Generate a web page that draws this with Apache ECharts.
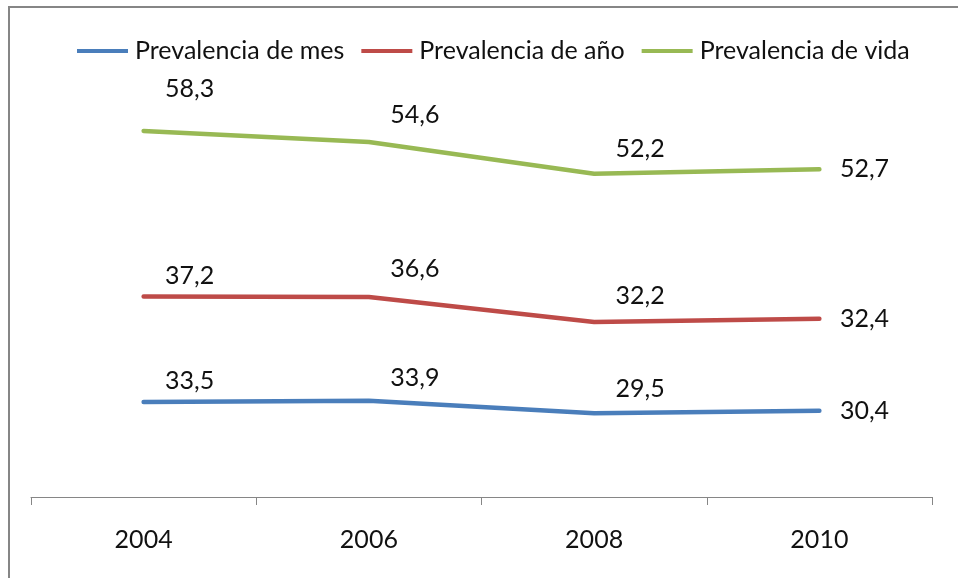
<!DOCTYPE html>
<html>
<head>
<meta charset="utf-8">
<script src="https://cdn.jsdelivr.net/npm/echarts@6/dist/echarts.min.js"></script>
<style>
    html, body { margin: 0; padding: 0; background: #fff; }
    #chart { width: 958px; height: 578px; }
</style>
</head>
<body>
<div id="chart"></div>
<script>
// 年份
const years = ['2004', '2006', '2008', '2010']
// 各系列数值 (Excel 折线图为堆积折线)
const mesValues = [33.5, 33.9, 29.5, 30.4]
const anoValues = [37.2, 36.6, 32.2, 32.4]
const vidaValues = [58.3, 54.6, 52.2, 52.7]
const seriesNames = ['Prevalencia de mes', 'Prevalencia de año', 'Prevalencia de vida']

// 标签上移量 (每个系列每个点)
const labelLift = {
    mes: [-21, -23, -24],
    ano: [-20, -28, -26],
    vida: [-42, -27, -25]
}

const font = 'Lato'
const fontSize = 25

function buildData(values, lift) {
    return values.map((v, i) => {
        if (i === values.length - 1) {
            return { value: v, label: { position: 'right', distance: 20 } }
        }
        return { value: v, label: { position: 'inside', offset: [46, lift[i]] } }
    })
}

function makeSeries(name, values, lift, color) {
    return {
        name: name,
        type: 'line',
        stack: 'total',
        symbol: 'circle',
        symbolSize: 1,
        data: buildData(values, lift),
        lineStyle: { color: color, width: 4.5, cap: 'round' },
        itemStyle: { color: color },
        label: {
            show: true,
            color: '#111',
            fontFamily: font,
            fontSize: fontSize,
            formatter: p => p.value.toFixed(1).replace('.', ',')
        },
        emphasis: { disabled: true }
    }
}

var myChart = echarts.init(document.getElementById('chart'))

var option = {
    animation: false,
    graphic: [{
        type: 'rect',
        shape: { x: 9, y: 7, width: 1000, height: 1000 },
        style: { fill: 'none', stroke: '#868686', lineWidth: 2 },
        z: 100
    }],
    legend: {
        left: 72,
        top: 32,
        icon: 'rect',
        itemWidth: 51,
        itemHeight: 4,
        itemGap: 17,
        data: seriesNames,
        textStyle: {
            fontFamily: font,
            fontSize: fontSize,
            color: '#111',
            lineHeight: 28,
            padding: [0, 0, 0, 2]
        }
    },
    grid: {
        left: 31,
        right: 26,
        top: 43,
        bottom: 81,
        containLabel: false
    },
    xAxis: {
        type: 'category',
        data: years,
        boundaryGap: true,
        axisLine: { lineStyle: { color: '#868686', width: 1 } },
        axisTick: { show: true, length: 8, lineStyle: { color: '#868686' } },
        axisLabel: {
            margin: 29,
            fontFamily: font,
            fontSize: fontSize,
            color: '#111',
            lineHeight: 28
        }
    },
    yAxis: {
        type: 'value',
        min: 0,
        max: 160,
        show: false,
        splitLine: { show: false }
    },
    series: [
        makeSeries(seriesNames[0], mesValues, labelLift.mes, '#4a7ebb'),
        makeSeries(seriesNames[1], anoValues, labelLift.ano, '#be4b48'),
        makeSeries(seriesNames[2], vidaValues, labelLift.vida, '#98b954')
    ]
}

myChart.setOption(option)
</script>
</body>
</html>
